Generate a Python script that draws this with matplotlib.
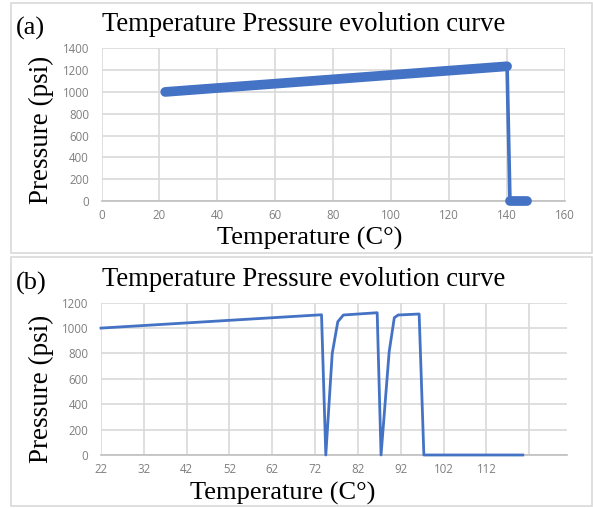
import matplotlib
matplotlib.use("Agg")
import matplotlib.pyplot as plt
from matplotlib.patches import Rectangle

# panel (a) data: steady rise, then sudden drop to zero
temp_a = [22, 140, 141, 147]
pres_a = [1000, 1235, 0, 0]
xticks_a = [0, 20, 40, 60, 80, 100, 120, 140, 160]
yticks_a = [0, 200, 400, 600, 800, 1000, 1200, 1400]

# panel (b) data: two dips, then drop to zero
temp_b = [22, 73.5, 74.5, 76.0, 77.3, 78.6, 86.5, 87.4, 89.3, 90.5, 91.4, 96.3, 97.4, 120.5]
pres_b = [1000, 1105, 0, 800, 1050, 1103, 1121, 0, 814, 1082, 1103, 1111, 0, 0]
xticks_b = [22, 32, 42, 52, 62, 72, 82, 92, 102, 112, 122]
xlabels_b = ["22", "32", "42", "52", "62", "72", "82", "92", "102", "112", ""]
yticks_b = [0, 200, 400, 600, 800, 1000, 1200]

W, H = 593, 508
BLUE = "#4472C4"
GRID = "#d9d9d9"
TICK = "#7f7f7f"
SERIF = "Liberation Serif"
SANS = "Open Sans"

fig = plt.figure(figsize=(W / 100, H / 100), dpi=100)


def fx(px):
    return px / W


def fy(py):
    return 1 - py / H


def style_axes(ax):
    ax.grid(True, color=GRID, linewidth=1.2)
    ax.set_axisbelow(True)
    for side in ["top", "right", "left"]:
        ax.spines[side].set_visible(False)
    ax.spines["bottom"].set_color("#bfbfbf")
    ax.spines["bottom"].set_linewidth(1.2)
    ax.tick_params(length=0, labelsize=8.3, labelcolor=TICK)
    ax.tick_params(axis="y", pad=9)
    ax.tick_params(axis="x", pad=6)
    for lab in ax.get_xticklabels() + ax.get_yticklabels():
        lab.set_fontfamily(SANS)


# panel frames
for top, bottom in [(3, 253), (257, 506)]:
    fig.patches.append(Rectangle((fx(11), fy(bottom)), fx(592) - fx(11), fy(top) - fy(bottom),
                                 transform=fig.transFigure, fill=False,
                                 edgecolor=GRID, linewidth=1.2))

# ---- panel (a)
ax_a = fig.add_axes([fx(101.5), fy(201), fx(565) - fx(101.5), fy(48.3) - fy(201)])
ax_a.plot(temp_a, pres_a, color=BLUE, linewidth=2.6, clip_on=False, zorder=3)
ax_a.plot(temp_a[:2], pres_a[:2], color=BLUE, linewidth=7, solid_capstyle="round",
          clip_on=False, zorder=3)
ax_a.plot(temp_a[2:], pres_a[2:], color=BLUE, linewidth=7, solid_capstyle="round",
          clip_on=False, zorder=3)
ax_a.set_xlim(0, 160)
ax_a.set_ylim(0, 1400)
ax_a.set_xticks(xticks_a)
ax_a.set_yticks(yticks_a)
style_axes(ax_a)

# ---- panel (b)
ax_b = fig.add_axes([fx(101), fy(455), fx(567.3) - fx(101), fy(302.7) - fy(455)])
ax_b.plot(temp_b, pres_b, color=BLUE, linewidth=2, clip_on=False, zorder=3)
ax_b.set_xlim(22, 130.9)
ax_b.set_ylim(0, 1200)
ax_b.set_xticks(xticks_b)
ax_b.set_xticklabels(xlabels_b)
ax_b.set_yticks(yticks_b)
style_axes(ax_b)

# ---- text
for dy, tag in [(0, "(a)"), (255, "(b)")]:
    fig.text(fx(16), fy(35 + dy), tag, fontsize=19, family=SERIF, va="baseline", ha="left")
    fig.text(fx(102), fy(31 + dy), "Temperature Pressure evolution curve",
             fontsize=19.2, family=SERIF, va="baseline", ha="left")

fig.text(fx(216.7), fy(245), "Temperature (C°)", fontsize=19, family=SERIF, va="baseline", ha="left")
fig.text(fx(190), fy(500), "Temperature (C°)", fontsize=19, family=SERIF, va="baseline", ha="left")
fig.text(fx(41.5), fy(129.5), "Pressure (psi)", fontsize=19.5, family=SERIF,
         rotation=90, va="center", ha="center")
fig.text(fx(41.5), fy(389), "Pressure (psi)", fontsize=19.5, family=SERIF,
         rotation=90, va="center", ha="center")

fig.savefig("out.png", dpi=100, facecolor="white")
